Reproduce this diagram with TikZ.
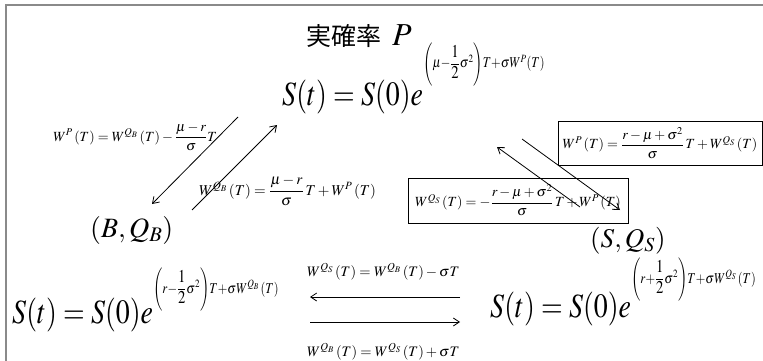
\documentclass[tikz,border=0pt]{standalone}
\usepackage{amsmath}
\usepackage{mathptmx}
\usepackage{exscale}
\usepackage{graphicx}
\usepackage[no-math]{fontspec}
\setmainfont{Liberation Serif}
\newfontfamily\cjk{Noto Sans CJK JP}
\usetikzlibrary{arrows.meta}
\newcommand{\fs}[1]{\fontsize{#1}{#1}\selectfont}
\newcommand{\hsq}[1]{\scalebox{0.82}[1]{#1}}
\newcommand{\half}{\dfrac{\scalebox{1.2}{$1$}}{\scalebox{1.2}{$2$}}}
\definecolor{framegray}{HTML}{8A8A8A}
\tikzset{
  txt/.style={inner sep=0pt, anchor=base west},
  lbl/.style={inner sep=0pt, anchor=base west, font=\fs{14}},
  eqbox/.style={draw, line width=0.9pt, inner sep=1pt, font=\fs{14}},
  conn/.style={line width=0.8pt, -{Straight Barb[length=6pt,width=8pt]}}
}
\begin{document}
\begin{tikzpicture}[x=1pt,y=-1pt]
\useasboundingbox (0,0) rectangle (763,361);
\draw[framegray, line width=2pt] (6,361) -- (6,5) -- (763,5);

% title
\node[txt] (title) at (306,46) {\cjk\fs{25}実確率\hspace{11pt}\fs{32}$P$};

% main formula
\node[txt] (main) at (282,105) {\hsq{\fs{34}$S(t)=S(0)e$\raisebox{37pt}{\fs{15}$\Biggl(\mu{-}\half\sigma^2\Biggr)T{+}\sigma W^{P}(T)$}}};

% left labels
\node[lbl] (l1) at (53,141) {$W^{P}\,(T)=W^{Q_B}\,(T)-\dfrac{\mu-r}{\sigma}T$};
\node[lbl, font=\fs{15}] (l2) at (199,195) {$W^{Q_B}\,(T)=\dfrac{\mu-r}{\sigma}\,T+W^{P}\,(T)$};

% left arrows
\coordinate (a1s) at (238,117);
\coordinate (a1e) at (152,204);
\coordinate (a2s) at (192,210);
\coordinate (a2e) at (277,125);
\draw[conn] (a1s) -- (a1e);
\draw[conn] (a2s) -- (a2e);

% B,Q_B
\node[txt] (bq) at (90,237) {\fs{28}$(B,Q_B)$};
% S,Q_S
\node[txt] (sq) at (590,247) {\fs{27}$(S,Q_S)$};

% right boxes
\node[eqbox, minimum width=204pt, minimum height=44pt] (rb) at (660,143) {$W^{P}\,(T)=\dfrac{r-\mu+\sigma^2}{\sigma}\,T+W^{Q_S}\,(T)$};
\node[eqbox, minimum width=220pt, minimum height=45pt] (lb) at (518,200.5) {$W^{Q_S}\,(T)=-\dfrac{r-\mu+\sigma^2}{\sigma}\,T+W^{P}\,(T)$};

% right arrows
\coordinate (b1s) at (580,207);
\coordinate (b1e) at (497,147);
\coordinate (b2s) at (522,139);
\coordinate (b2e) at (620,210);
\draw[conn] (b1s) -- (b1e);
\draw[conn] (b2s) -- (b2e);

% bottom formulas
\node[txt] (bl) at (12,323) {\hsq{\fs{34}$S(t)=S(0)e$\raisebox{30pt}{\fs{15}$\Biggl(r{-}\half\sigma^2\Biggr)T{+}\sigma W^{Q_B}\,(T)$}}};
\node[txt] (br) at (490,317) {\hsq{\fs{34}$S(t)=S(0)e$\raisebox{34pt}{\fs{15}$\Biggl(r{+}\half\sigma^2\Biggr)T{+}\sigma W^{Q_S}\,(T)$}}};

% bottom arrows
\coordinate (c1s) at (460,297);
\coordinate (c1e) at (310,297);
\coordinate (c2s) at (310,322);
\coordinate (c2e) at (460,322);
\draw[conn] (c1s) -- (c1e);
\draw[conn] (c2s) -- (c2e);
\node[lbl, font=\fs{14.5}] (bt) at (307,276) {$W^{Q_S}\,(T)=W^{Q_B}\,(T)-\sigma T$};
\node[lbl, font=\fs{14.5}] (bb) at (307,356) {$W^{Q_B}\,(T)=W^{Q_S}\,(T)+\sigma T$};
\end{tikzpicture}
\end{document}
